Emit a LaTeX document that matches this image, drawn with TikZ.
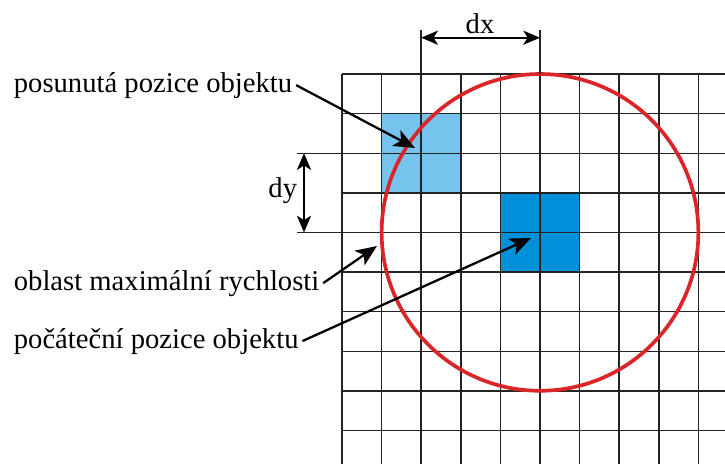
\documentclass[tikz,border=0pt]{standalone}
\usepackage{fontspec}
\setmainfont{Liberation Serif}
\usetikzlibrary{arrows.meta, positioning}
\definecolor{gridgray}{RGB}{35,35,35}
\definecolor{ringred}{RGB}{218,37,41}
\definecolor{celllight}{RGB}{118,196,238}
\definecolor{celldark}{RGB}{0,144,218}
\tikzset{
  gridline/.style={line width=0.8pt,color=gridgray},
  ring/.style={line width=2.1pt,color=ringred},
  dimarrow/.style={{Stealth[length=9.5pt,width=8pt,inset=2.5pt]}-{Stealth[length=9.5pt,width=8pt,inset=2.5pt]},line width=1.3pt,color=black},
  pointer/.style={-{Stealth[length=12pt,width=10pt,inset=3pt]},line width=1.3pt,color=black},
  lbltext/.style={font=\fontsize{16.3}{19}\selectfont,inner sep=2pt}
}

\begin{document}
\begin{tikzpicture}[x=0.02cm,y=-0.02cm]
  \useasboundingbox (0,0) rectangle (725,464);

  % ── Object cells ──────────────────────────────────────────────────────────
  \fill[celllight] (381.6,113.6) rectangle (460.8,192.8);
  \fill[celldark]  (500.4,192.8) rectangle (579.6,272);

  % ── Grid ─────────────────────────────────────────────────────────────────
  \foreach \i in {0,...,9}
    \draw[gridline] ({342+39.6*\i},74) -- ({342+39.6*\i},464);
  \foreach \j in {0,...,9}
    \draw[gridline] (342,{74+39.6*\j}) -- (725,{74+39.6*\j});

  % ── Region of maximum speed ──────────────────────────────────────────────
  \draw[ring] (540,232.4) circle[radius=3.168cm];

  % ── dx / dy dimensions ───────────────────────────────────────────────────
  \draw[gridline] (421.2,30) -- (421.2,74);
  \draw[gridline] (540,30) -- (540,74);
  \coordinate (dxl) at (421.2,37.7);
  \coordinate (dxr) at (540,37.7);
  \draw[dimarrow] (dxl) -- (dxr);
  \node[lbltext, anchor=base] (dxlab) at (480,33) {dx};

  \draw[gridline] (297,153.2) -- (342,153.2);
  \draw[gridline] (297,232.4) -- (342,232.4);
  \coordinate (dyt) at (304,153.2);
  \coordinate (dyb) at (304,232.4);
  \draw[dimarrow] (dyt) -- (dyb);
  \node[lbltext, anchor=base east] (dylab) at (301,197) {dy};

  % ── Labels with pointers ─────────────────────────────────────────────────
  \node[lbltext, anchor=base west] (posun) at (10,92) {posunutá pozice objektu};
  \node[lbltext, anchor=base west] (oblast) at (10,290) {oblast maximální rychlosti};
  \node[lbltext, anchor=base west] (start) at (10,348) {počáteční pozice objektu};

  \coordinate (posuntip) at (415,148);
  \coordinate (oblasttip) at (377,246);
  \coordinate (starttip) at (531,238);
  \draw[pointer] (posun.east) -- (posuntip);
  \draw[pointer] (oblast.east) -- (oblasttip);
  \draw[pointer] (start.east) -- (starttip);
\end{tikzpicture}
\end{document}
